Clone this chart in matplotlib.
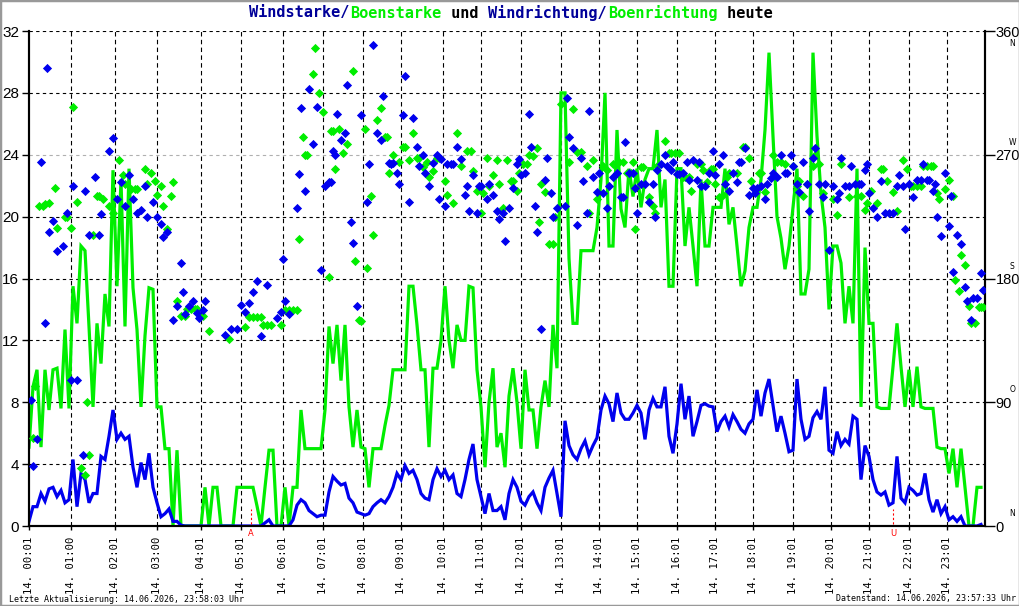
import numpy as np
import matplotlib
matplotlib.use("Agg")
import matplotlib.pyplot as plt
from matplotlib.patches import Rectangle

# x axis = sample number of the day (one reading about every 3 minutes)
# line readings are given for every 2nd sample
speed = [0.3, 1.25, 1.25, 2.1, 1.6, 2.4, 2.5, 1.9, 2.3, 1.5,
         1.7, 4.3, 1.25, 3.4, 3.0, 1.5, 2.1, 2.1, 4.5, 4.3,
         5.8, 7.5, 5.6, 6.0, 5.6, 5.8, 3.8, 2.5, 4.1, 3.0,
         4.7, 2.5, 1.5, 0.6, 0.8, 1.1, 0.3, 0.3, 0.05, 0,
         0, 0, 0, 0, 0, 0, 0, 0, 0, 0,
         0, 0, 0, 0, 0, 0, 0, 0, 0, 0.2,
         0.4, 0, 0, 0, 0, 0, 0.4, 1.35, 1.7, 1.5,
         1.0, 0.8, 0.6, 0.7, 0.7, 2.2, 3.2, 2.9, 2.65, 2.75,
         1.8, 1.5, 0.9, 0.8, 0.7, 0.8, 1.25, 1.5, 1.7, 1.5,
         1.9, 2.5, 3.4, 3.0, 3.9, 3.4, 3.6, 3.0, 2.1, 1.8,
         1.7, 3.0, 3.7, 3.2, 3.6, 3.0, 3.3, 2.1, 1.9, 3.0,
         4.3, 5.3, 3.0, 1.9, 0.8, 2.1, 1.0, 1.0, 1.25, 0.4,
         2.1, 3.0, 2.5, 1.6, 1.35, 1.9, 2.2, 1.5, 1.0, 2.5,
         3.1, 3.6, 2.1, 0.6, 6.8, 5.2, 4.6, 4.3, 5.0, 5.5,
         4.6, 5.2, 5.7, 7.5, 8.4, 7.9, 6.75, 8.6, 7.3, 6.9,
         6.9, 7.3, 7.8, 7.3, 5.6, 7.5, 8.25, 7.7, 7.7, 9.0,
         5.8, 4.7, 6.6, 9.2, 6.9, 8.4, 5.8, 6.75, 7.8, 7.9,
         7.75, 7.7, 6.1, 6.75, 7.1, 6.4, 7.2, 6.75, 6.25, 6.0,
         6.6, 6.9, 8.8, 7.1, 8.6, 9.5, 7.8, 6.1, 7.1, 6.0,
         4.8, 4.9, 9.5, 6.9, 5.6, 5.8, 7.0, 7.4, 6.9, 9.0,
         4.9, 4.7, 6.1, 5.2, 5.6, 5.3, 7.1, 6.9, 3.0, 5.2,
         4.5, 3.0, 2.2, 2.0, 2.2, 1.35, 1.5, 4.5, 1.8, 1.5,
         2.5, 2.3, 2.0, 2.1, 3.4, 1.7, 0.9, 1.7, 0.8, 1.25,
         0.4, 0.6, 0.3, 0.6, 0, 0, 0, 0, 0.1]

gust = [5.1, 9.0, 10.1, 5.1, 10.1, 7.5, 10.1, 10.2, 7.6, 12.7,
        7.6, 15.5, 13.1, 18.1, 17.8, 12.9, 7.7, 13.1, 10.5, 15.0,
        12.9, 23.0, 15.5, 22.4, 12.9, 23.1, 15.4, 12.7, 7.7, 12.3,
        15.4, 15.3, 7.7, 7.7, 5.0, 5.0, 0, 4.9, 0, 0,
        0, 0, 0, 0, 2.5, 0, 2.5, 2.5, 0, 0,
        0, 0, 2.5, 2.5, 2.5, 2.5, 2.5, 1.3, 0, 2.5,
        4.9, 4.9, 0, 0, 2.5, 0, 2.5, 2.5, 7.5, 5.0,
        5.0, 5.0, 5.0, 5.0, 7.5, 12.9, 10.5, 13.0, 9.4, 13.0,
        7.7, 5.1, 7.5, 5.1, 5.0, 2.5, 5.0, 5.0, 5.0, 6.5,
        7.8, 10.1, 10.1, 10.1, 10.1, 15.5, 15.5, 13.0, 10.1, 10.1,
        5.1, 10.2, 10.2, 12.0, 15.5, 12.0, 10.2, 13.0, 12.0, 12.0,
        15.5, 15.4, 10.1, 7.7, 3.8, 8.0, 10.2, 5.1, 6.0, 3.8,
        8.4, 10.2, 8.0, 5.0, 10.1, 7.5, 7.5, 5.0, 7.7, 9.4,
        7.7, 13.0, 10.2, 28.0, 28.0, 17.3, 13.1, 13.1, 17.8, 17.8,
        17.8, 17.8, 19.3, 22.4, 28.0, 18.1, 18.1, 25.6, 20.5, 19.3,
        23.1, 21.3, 23.1, 20.6, 22.4, 23.1, 23.1, 25.6, 20.6, 22.4,
        15.5, 15.5, 23.1, 23.1, 18.1, 20.6, 18.1, 15.5, 22.4, 18.1,
        18.1, 20.6, 20.6, 20.6, 23.1, 19.5, 20.6, 18.1, 15.5, 16.5,
        19.3, 20.6, 20.6, 22.4, 25.6, 30.6, 25.2, 20.0, 18.6, 16.6,
        18.1, 20.6, 23.1, 15.0, 15.0, 16.6, 30.6, 25.2, 21.5, 19.3,
        14.0, 18.1, 18.1, 17.0, 13.1, 15.5, 13.1, 23.1, 7.7, 18.0,
        13.1, 13.1, 7.7, 7.6, 7.6, 7.6, 10.3, 13.1, 10.3, 7.7,
        10.1, 7.7, 10.3, 7.7, 7.6, 7.6, 7.6, 5.1, 5.0, 5.0,
        3.4, 5.0, 2.5, 5.0, 2.5, 0, 0, 2.5, 2.5]

# wind direction (sample number, degrees)
wdir_s = [1, 2, 4, 6, 8, 9, 10, 12, 14, 17, 19, 21, 22, 24, 27, 28, 30, 33, 35, 36,
          40, 42, 44, 46, 48, 50, 52, 54, 56, 58, 59, 62, 64, 66, 67, 69, 72, 74, 76, 77,
          78, 80, 82, 84, 85, 87, 88, 98, 101, 104, 106, 108, 110, 112, 114, 116, 119, 124, 126, 127,
          128, 130, 134, 135, 136, 138, 140, 142, 144, 146, 148, 150, 151, 152, 153, 154, 156, 158, 159, 161,
          162, 164, 166, 169, 170, 172, 174, 176, 177, 180, 181, 182, 184, 185, 187, 188, 190, 192, 194, 195,
          197, 198, 200, 202, 204, 205, 206, 208, 209, 211, 212, 214, 216, 218, 219, 220, 222, 224, 225, 226,
          229, 230, 232, 234, 235, 237, 238, 240, 242, 244, 245, 246, 248, 250, 251, 253, 254, 256, 258, 259,
          261, 262, 264, 268, 269, 270, 272, 274, 276, 277, 279, 280, 282, 284, 285, 287, 289, 290, 292, 294,
          296, 297, 298, 300, 302, 303, 304, 306, 308, 310, 312, 313, 314, 316, 318, 319, 321, 322, 324, 325,
          327, 329, 330, 332, 334, 335, 336, 338, 340, 342, 343, 345, 347, 348, 350, 352, 354, 355, 356, 358,
          360, 362, 363, 364, 366, 368, 369, 371, 372, 374, 376, 378, 379, 381, 382, 384, 385, 387, 389, 390,
          392, 393, 395, 397, 398, 400, 402, 404, 405, 406, 408, 410, 411, 413, 415, 416, 418, 419, 420, 422,
          424, 426, 428, 430, 432, 434, 435, 437, 438, 440, 442, 444, 446, 447, 449, 450, 452, 453, 454, 456,
          458, 460, 461, 462, 464, 466, 468, 469, 471, 472, 474, 476, 477]
wdir = [92, 44, 63, 265, 148, 333, 214, 222, 200, 204, 228, 106, 247, 106, 52, 244, 212, 254, 212, 227,
        273, 282, 238, 250, 233, 255, 238, 228, 230, 247, 225, 236, 225, 220, 210, 214, 150, 160, 191, 170,
        154, 160, 164, 155, 151, 157, 164, 139, 143, 143, 161, 156, 162, 170, 178, 138, 175, 151, 156, 194,
        164, 154, 231, 256, 304, 244, 318, 278, 305, 186, 247, 250, 250, 273, 270, 300, 281, 286, 321, 221,
        206, 160, 299, 236, 263, 350, 286, 281, 313, 264, 263, 264, 257, 249, 299, 327, 236, 297, 276, 262,
        270, 257, 247, 264, 270, 238, 267, 233, 263, 263, 263, 276, 267, 241, 247, 229, 255, 228, 247, 247,
        238, 249, 241, 229, 223, 228, 207, 231, 246, 263, 267, 255, 257, 300, 276, 233, 214, 143, 252, 268,
        242, 225, 231, 233, 311, 283, 275, 219, 268, 251, 228, 302, 254, 243, 257, 242, 231, 247, 254, 257,
        239, 239, 279, 257, 257, 246, 228, 249, 249, 236, 249, 225, 259, 263, 270, 262, 259, 265, 256, 256,
        257, 265, 252, 266, 252, 265, 247, 247, 257, 273, 255, 263, 270, 249, 244, 257, 250, 265, 265, 275,
        241, 246, 242, 246, 247, 238, 249, 253, 257, 254, 270, 257, 257, 270, 262, 249, 243, 265, 249, 229,
        268, 275, 249, 239, 249, 201, 247, 238, 242, 268, 247, 247, 262, 249, 249, 249, 259, 263, 242, 231,
        225, 251, 228, 228, 228, 247, 255, 247, 216, 249, 239, 252, 252, 263, 252, 252, 244, 249, 225, 211,
        257, 218, 240, 185, 212, 205, 174, 164, 150, 166, 166, 184, 172]

# gust direction (sample number, degrees)
gdir_s = [2, 3, 5, 7, 8, 10, 13, 14, 18, 19, 21, 22, 24, 26, 28, 29, 30, 32, 34, 35,
          37, 40, 42, 45, 47, 48, 51, 53, 54, 58, 59, 61, 63, 64, 66, 67, 69, 71, 72, 74,
          76, 78, 79, 81, 83, 84, 87, 90, 100, 108, 110, 112, 114, 116, 117, 119, 121, 126, 128, 130,
          132, 134, 135, 137, 138, 139, 142, 143, 145, 147, 150, 151, 152, 153, 155, 157, 159, 162, 163, 165,
          166, 168, 169, 171, 172, 174, 176, 178, 179, 180, 182, 185, 187, 188, 190, 192, 194, 195, 197, 199,
          200, 202, 204, 205, 208, 209, 212, 214, 216, 219, 221, 222, 224, 226, 227, 229, 230, 232, 234, 235,
          237, 239, 241, 242, 244, 245, 247, 249, 250, 252, 254, 255, 256, 258, 260, 262, 263, 266, 270, 272,
          274, 276, 279, 280, 282, 284, 287, 289, 292, 294, 295, 297, 299, 301, 302, 303, 306, 307, 310, 312,
          313, 314, 318, 320, 321, 323, 325, 327, 328, 330, 331, 334, 336, 337, 339, 341, 342, 343, 345, 347,
          349, 350, 354, 357, 358, 360, 361, 365, 366, 368, 372, 374, 376, 378, 382, 384, 385, 387, 389, 392,
          393, 395, 397, 402, 404, 406, 410, 414, 416, 418, 419, 421, 424, 426, 427, 429, 432, 434, 437, 439,
          441, 442, 444, 446, 447, 449, 451, 452, 454, 455, 458, 460, 462, 463, 465, 466, 468, 470, 471, 473,
          475, 476, 477]
gdir = [64, 102, 233, 233, 234, 235, 246, 217, 225, 225, 217, 305, 236, 42, 37, 90, 52, 212, 240, 240,
        238, 233, 228, 266, 255, 249, 245, 245, 245, 260, 249, 257, 251, 241, 247, 233, 216, 240, 250, 164,
        153, 153, 158, 158, 158, 158, 153, 142, 136, 145, 152, 152, 152, 152, 146, 146, 146, 146, 157, 157,
        157, 157, 209, 283, 270, 270, 329, 348, 315, 301, 181, 287, 287, 260, 289, 271, 278, 331, 193, 150,
        149, 289, 188, 240, 212, 295, 304, 283, 283, 257, 270, 265, 276, 276, 266, 286, 268, 268, 261, 265,
        254, 258, 268, 268, 251, 241, 235, 286, 262, 273, 273, 258, 244, 228, 242, 268, 247, 255, 266, 249,
        231, 266, 251, 251, 244, 257, 263, 263, 270, 269, 275, 221, 249, 243, 205, 205, 225, 307, 265, 303,
        272, 272, 262, 228, 266, 238, 262, 259, 263, 257, 265, 265, 257, 257, 265, 216, 261, 261, 239, 233,
        228, 262, 280, 271, 271, 271, 271, 254, 254, 254, 244, 263, 263, 259, 250, 260, 260, 249, 239, 241,
        254, 257, 257, 276, 276, 268, 251, 257, 257, 243, 270, 265, 265, 263, 262, 247, 251, 240, 249, 262,
        270, 263, 242, 238, 226, 263, 239, 240, 240, 230, 235, 244, 235, 260, 260, 251, 243, 229, 266, 260,
        247, 247, 247, 247, 262, 262, 262, 262, 242, 238, 245, 252, 240, 179, 171, 197, 190, 160, 148, 148,
        159, 159, 159]

hour_pos = [0, 21, 43, 64, 86, 106, 127, 147, 167, 186, 207, 226, 246, 266, 285,
            304, 324, 343, 362, 382, 401, 420, 440, 459]
hour_lbl = ["14. 00:01", "14. 01:00", "14. 02:01", "14. 03:00"] + \
           ["14. %02d:01" % h for h in range(4, 24)]
sunrise, sunset = 111, 432

BLUE = "#0000ee"
GREEN = "#00ee00"
NAVY = "#000099"

fig = plt.figure(figsize=(10.2, 6.06), dpi=100)
ax = fig.add_axes([29 / 1020, 80 / 606, 956 / 1020, 495 / 606])
ax2 = ax.twinx()

x = np.arange(len(speed)) * 2
ax.plot(x, gust, color=GREEN, lw=2.3, solid_joinstyle="miter", zorder=3)
ax.plot(x, speed, color=BLUE, lw=2.3, solid_joinstyle="miter", zorder=4)

ax2.scatter(gdir_s, gdir, marker="D", s=22, color=GREEN, linewidths=0, zorder=5)
ax2.scatter(wdir_s, wdir, marker="D", s=22, color=BLUE, linewidths=0, zorder=6)

ax.set_xlim(0, 478)
ax.set_ylim(0, 32)
ax2.set_ylim(0, 360)

# grid
for v in range(4, 33, 4):
    ax.axhline(v, color="#b0b0b0" if v == 24 else "black", lw=0.8,
               ls=(0, (3, 3)), zorder=1)
for p in hour_pos[1:]:
    ax.axvline(p, color="black", lw=0.8, ls=(0, (4, 3)), zorder=1)

ax.set_yticks(range(0, 33, 4))
ax.set_yticklabels([str(v) for v in range(0, 33, 4)],
                   fontsize=11, family="Liberation Sans")
ax2.set_yticks([0, 90, 180, 270, 360])
ax2.set_yticklabels(["0", "90", "180", "270", "360"],
                    fontsize=10.5, family="Liberation Sans")
ax.tick_params(axis="y", length=5, width=1, pad=2)
ax2.tick_params(axis="y", length=7, width=1, pad=0.5)

ax.set_xticks(hour_pos)
ax.set_xticklabels(hour_lbl, rotation=90, fontsize=7.6,
                   family="DejaVu Sans Mono", va="top", ha="center")
ax.tick_params(axis="x", length=3, width=1, pad=5)

for a in (ax, ax2):
    a.spines["top"].set_visible(False)
    for s in ("left", "right", "bottom"):
        a.spines[s].set_linewidth(1.5)

# compass letters on the right axis
for deg, ch in [(360, "N"), (270, "W"), (180, "S"), (90, "O"), (0, "N")]:
    dy = -9 if deg == 360 else 9
    ax2.annotate(ch, (1, deg), xycoords=("axes fraction", "data"),
                 xytext=(19.5, dy), textcoords="offset points",
                 fontsize=5.5, ha="center", va="center", family="DejaVu Sans")

# sunrise / sunset markers
for pos, ch in [(sunrise, "A"), (sunset, "U")]:
    ax.plot([pos, pos], [0.1, 1.1], color="red", lw=0.8, ls=(0, (2, 2)),
            zorder=7, clip_on=False)
    ax.annotate(ch, (pos, 0), xytext=(0, -2), textcoords="offset points",
                ha="center", va="top", color="red", fontsize=6,
                family="DejaVu Sans")

# title in colored parts
parts = [("Windstarke/", NAVY), ("Boenstarke", GREEN), (" und ", "black"),
         ("Windrichtung/", NAVY), ("Boenrichtung", GREEN), (" heute", "black")]
cw = 9.2 / 1020
n = sum(len(t) for t, _ in parts)
xs = 511.5 / 1020 - n * cw / 2
for t, c in parts:
    fig.text(xs, 1 - 13 / 606, t, color=c, fontsize=11, fontweight="bold",
             family="DejaVu Sans Mono", ha="left", va="center")
    xs += len(t) * cw

fig.text(9 / 1020, 1 - 599 / 606, "Letzte Aktualisierung: 14.06.2026, 23:58:03 Uhr",
         fontsize=6, family="DejaVu Sans Mono", ha="left", va="center")
fig.text(1016 / 1020, 1 - 599 / 606, "Datenstand: 14.06.2026, 23:57:33 Uhr",
         fontsize=6, family="DejaVu Sans Mono", ha="right", va="center")

fig.patches.append(Rectangle((0, 0), 1, 1, transform=fig.transFigure, fill=False,
                             edgecolor="#999999", lw=2.5))

fig.savefig("out.png", dpi=100)
